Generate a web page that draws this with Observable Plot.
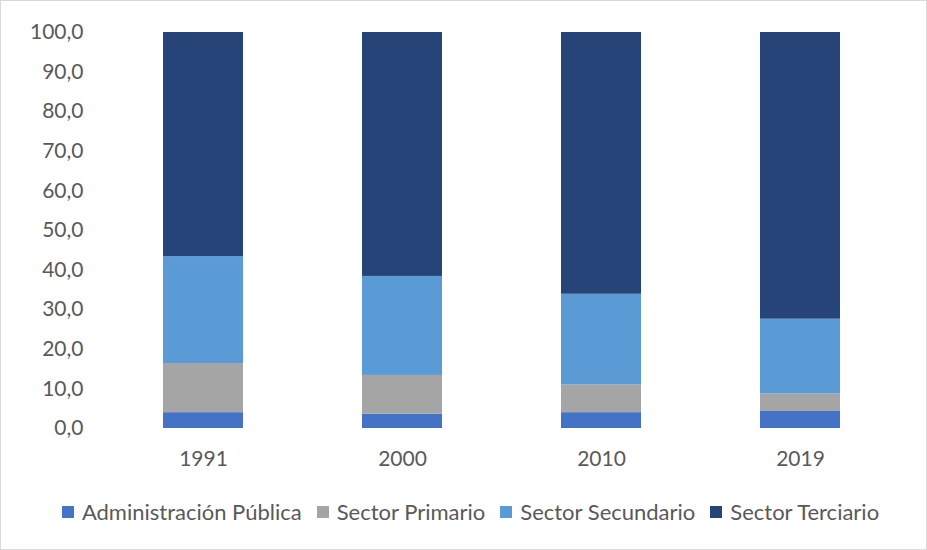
<!DOCTYPE html>
<html>
<head>
<meta charset="utf-8">
<script src="https://cdn.jsdelivr.net/npm/d3@7"></script>
<script src="https://cdn.jsdelivr.net/npm/@observablehq/plot@0.6"></script>
<style>
  html, body { margin: 0; padding: 0; background: #fff; }
  #frame { width: 925px; height: 548px; border: 1px solid #d9d9d9; position: relative; overflow: hidden; }
  #legend { display: flex; justify-content: center; gap: 15px; font-family: Lato, "Open Sans", sans-serif; font-size: 22px; color: #595959; margin-top: 13px; margin-left: 14px; }
  #legend .item { display: flex; align-items: center; gap: 8px; }
  #legend .sw { width: 12px; height: 12px; display: inline-block; }
</style>
</head>
<body>
<div id="frame">
  <div id="chart"></div>
  <div id="legend"></div>
</div>
<script>
const years = ["1991", "2000", "2010", "2019"];
const sectors = ["Administración Pública", "Sector Primario", "Sector Secundario", "Sector Terciario"];
const colors = ["#4472C4", "#A5A5A5", "#5B9BD5", "#264478"];
const adminPublica = [4.0, 3.6, 4.0, 4.3];
const sectorPrimario = [12.4, 9.8, 7.0, 4.4];
const sectorSecundario = [27.0, 25.0, 22.9, 18.9];
const sectorTerciario = [56.6, 61.6, 66.1, 72.4];
const yTicks = [0, 10, 20, 30, 40, 50, 60, 70, 80, 90, 100];

const series = [adminPublica, sectorPrimario, sectorSecundario, sectorTerciario];
const data = [];
years.forEach((y, i) => {
  sectors.forEach((s, j) => data.push({year: y, sector: s, value: series[j][i]}));
});

const fmt = d => d.toFixed(1).replace(".", ",");

const chart = Plot.plot({
  width: 925,
  height: 484,
  marginTop: 31,
  marginBottom: 57,
  marginLeft: 102,
  marginRight: 27,
  style: {fontFamily: "Lato, 'Open Sans', sans-serif", fontSize: "21px", color: "#595959", background: "#fff"},
  x: {domain: years, label: null, paddingInner: 0.6, paddingOuter: 0.3, tickSize: 0, tickPadding: 23},
  y: {domain: [0, 100], ticks: yTicks, tickFormat: fmt, label: null, tickSize: 0, tickPadding: 20},
  color: {domain: sectors, range: colors},
  marks: [
    Plot.barY(data, {x: "year", y: "value", fill: "sector", order: sectors})
  ]
});
document.getElementById("chart").appendChild(chart);

const legend = document.getElementById("legend");
sectors.forEach((s, i) => {
  const it = document.createElement("div");
  it.className = "item";
  const sw = document.createElement("span");
  sw.className = "sw";
  sw.style.background = colors[i];
  const t = document.createElement("span");
  t.textContent = s;
  it.appendChild(sw); it.appendChild(t);
  legend.appendChild(it);
});
</script>
</body>
</html>
